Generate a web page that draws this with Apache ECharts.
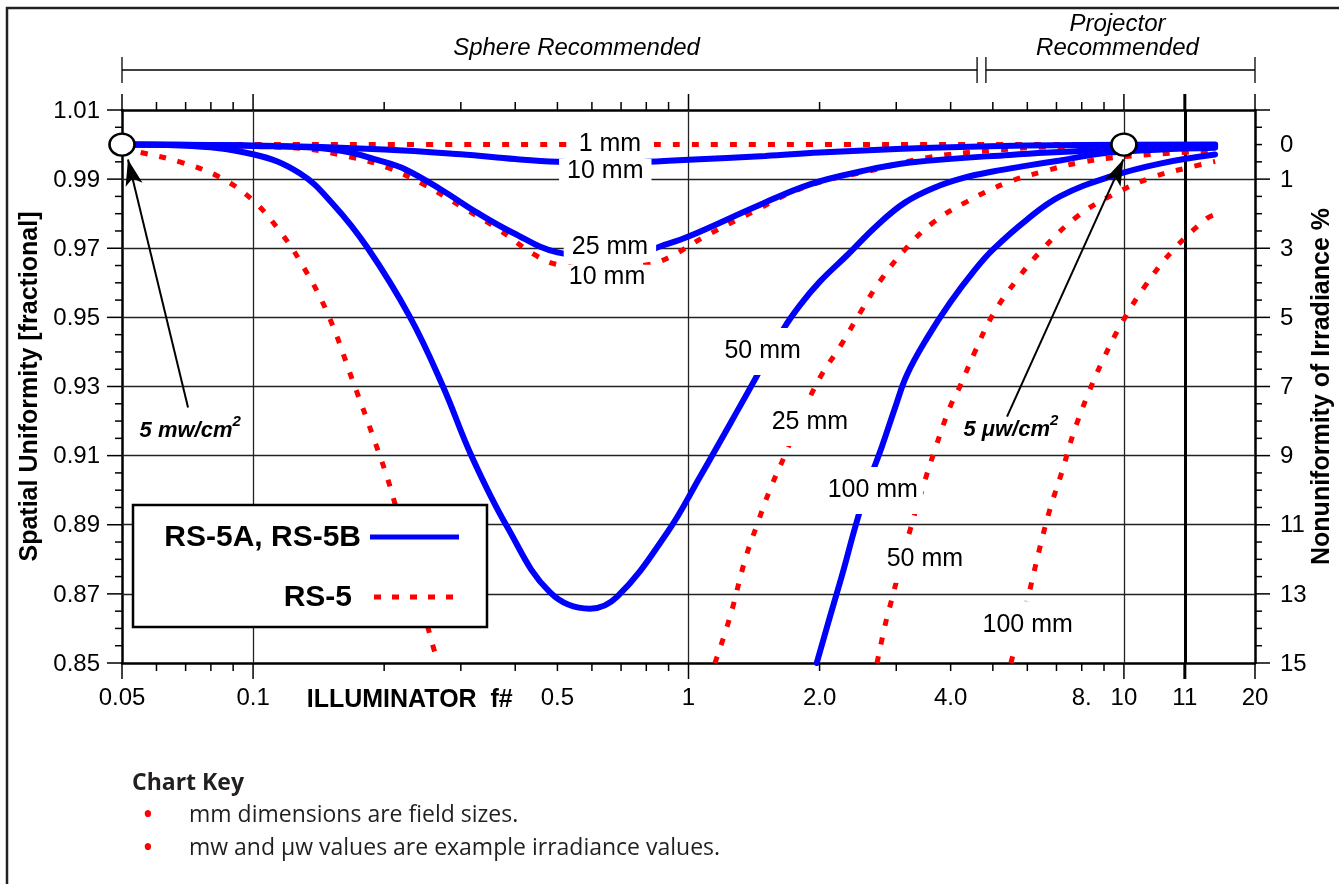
<!DOCTYPE html>
<html><head><meta charset="utf-8">
<script src="https://cdn.jsdelivr.net/npm/echarts@6.0.0/dist/echarts.min.js"></script>
<style>html,body{margin:0;padding:0;background:#fff;overflow:hidden;width:1339px;height:884px}#c{width:1339px;height:884px}</style>
</head><body><div id="c"></div>
<script>
// ---------------- data ----------------
const X_MIN = 0.05, X_MAX = 20, Y_MIN = 0.85, Y_MAX = 1.01;

// RS-5A, RS-5B (solid blue)
const blue10mm = [[0.05,1.0],[0.1,0.9997],[0.2,0.9986],[0.3,0.9972],[0.4,0.9958],[0.5,0.9950],[0.65,0.9947],[0.86,0.9952],[1.0,0.9956],[1.5,0.9967],[2.0,0.9977],[3.0,0.9987],[4.0,0.9992],[6.0,0.9997],[8.0,0.9999],[16.2,1.0]];
const blue25mm = [[0.05,1.0],[0.1,0.9996],[0.154,0.9985],[0.2,0.9950],[0.224,0.9928],[0.27,0.9870],[0.327,0.9803],[0.395,0.9745],[0.5,0.9688],[0.62,0.9678],[0.81,0.9694],[0.86,0.9705],[1.0,0.9734],[1.46,0.9826],[1.9,0.9885],[2.48,0.9922],[3.23,0.9948],[5.47,0.9970],[9.29,0.9985],[16.2,0.9997]];
const blue50mm = [[0.05,1.0],[0.068,0.9997],[0.1,0.9972],[0.128,0.9917],[0.153,0.9826],[0.183,0.9702],[0.229,0.9502],[0.273,0.9300],[0.318,0.9097],[0.383,0.8895],[0.481,0.8704],[0.594,0.8657],[0.686,0.8692],[0.893,0.8877],[1.063,0.9039],[1.35,0.9270],[1.65,0.9465],[1.80,0.9534],[2.005,0.9604],[2.31,0.9679],[2.71,0.9766],[3.14,0.9832],[3.68,0.9876],[4.32,0.9905],[5.0,0.9922],[5.99,0.9939],[7.13,0.9954],[9.29,0.9977],[16.2,0.9991]];
const blue100mm = [[1.97,0.85],[2.113,0.8634],[2.264,0.8764],[2.413,0.8892],[2.584,0.9016],[2.784,0.9128],[2.98,0.9238],[3.175,0.9334],[3.53,0.9440],[3.99,0.9543],[4.55,0.9638],[5.0,0.9696],[5.99,0.9783],[7.13,0.9850],[9.29,0.9907],[12.1,0.9945],[16.2,0.9971]];

// RS-5 (dotted red)
const red1mm = [[0.05,1.0],[0.5,1.0],[1.0,1.0],[16.2,1.0]];
const red10mm = [[0.05,1.0],[0.122,0.9991],[0.166,0.9965],[0.204,0.9933],[0.247,0.9884],[0.303,0.9818],[0.367,0.9754],[0.442,0.9682],[0.5,0.9653],[0.63,0.9640],[0.81,0.9653],[0.91,0.9676],[1.08,0.9731],[1.44,0.9812],[1.74,0.9864],[2.11,0.9899],[2.57,0.9922],[3.53,0.9962],[5.0,0.9983],[7.13,0.9994],[16.2,0.9997]];
const red25mmLow = [[0.05,0.9988],[0.0553,0.9977],[0.0687,0.9948],[0.084,0.9905],[0.0994,0.9841],[0.1135,0.976],[0.128,0.9664],[0.148,0.9514],[0.170,0.9311],[0.189,0.9152],[0.2086,0.899],[0.2576,0.8559],[0.266,0.85]];
const red25mmHigh = [[1.15,0.85],[1.246,0.8634],[1.349,0.8799],[1.437,0.890],[1.539,0.9002],[1.667,0.9103],[1.80,0.9204],[2.005,0.9326],[2.23,0.9416],[2.48,0.9514],[2.75,0.9604],[3.14,0.9696],[3.64,0.9774],[4.36,0.9835],[5.39,0.989],[6.52,0.9922],[7.93,0.9948],[10,0.9965],[16.2,0.9983]];
const red50mm = [[2.71,0.85],[2.83,0.8611],[2.90,0.8663],[3.01,0.8741],[3.23,0.8886],[3.44,0.9002],[3.68,0.9117],[3.99,0.9242],[4.20,0.930],[4.55,0.9401],[5.0,0.9508],[5.68,0.9609],[6.49,0.9696],[7.81,0.9792],[9.44,0.9855],[11.6,0.9905],[14.0,0.9933],[16.2,0.9951]];
const red100mm = [[5.50,0.85],[5.99,0.8678],[6.42,0.8837],[6.77,0.8947],[7.21,0.9054],[7.64,0.9161],[8.23,0.9271],[8.96,0.9378],[9.90,0.9485],[11.2,0.9592],[13.0,0.9696],[15.5,0.9786],[16.2,0.9797]];

const seriesNames = ['RS-5A, RS-5B', 'RS-5'];

// curve labels (field sizes)
const flatLabelTexts = ['10 mm', '1 mm', '25 mm', '10 mm'];
const flatLabelAt = [[0.644,0.9922],[0.66,1.0],[0.66,0.9702],[0.65,0.9616]];
const steepLabelTexts = ['50 mm', '25 mm', '100 mm', '50 mm', '100 mm'];
const steepLabelAt = [[1.48,0.9401],[1.90,0.9196],[2.65,0.8999],[3.49,0.880],[6.01,0.8611]];

// irradiance examples
const markerPoints = [[0.05,1.0],[10,1.0]];
const noteTexts = ['5 mw/cm', '5 \u03bcw/cm'];
const noteAt = [[0.0717,0.917],[5.5,0.9173]];
const arrowFrom = [[0.0709,0.9239],[5.39,0.9213]];
const arrowTo = [[0.0516,0.9957],[9.97,0.9957]];

// recommendation ranges
const regionNames = ['Sphere Recommended', 'Projector\nRecommended'];
const regionFrom = [0.05, 4.82];
const regionTo = [4.6, 20];

// axes ticks & labels
const xMajorTicks = [0.05, 0.1, 1, 10, 20];
const xMinorTicks = [0.06,0.07,0.08,0.09,0.2,0.3,0.4,0.5,0.6,0.7,0.8,0.9,2,3,4,5,6,7,8,9];
const xHeavyTicks = [13.8];
const xLabelValues = [0.05,0.1,0.5,1,2,4,8,10,13.8,20];
const xLabelTexts = ['0.05','0.1','0.5','1','2.0','4.0','8.','10','11','20'];
const xTitle = 'ILLUMINATOR  f#';
const xTitleAt = 0.229;
const yMajorTicks = [0.85,0.87,0.89,0.91,0.93,0.95,0.97,0.99,1.01];
const yMinorTicks = [0.855,0.86,0.865,0.875,0.88,0.885,0.895,0.90,0.905,0.915,0.92,0.925,0.935,0.94,0.945,0.955,0.96,0.965,0.975,0.98,0.985,0.995,1.00,1.005];
const rightLabelValues = [1.00,0.99,0.97,0.95,0.93,0.91,0.89,0.87,0.85];
const rightLabelTexts = ['0','1','3','5','7','9','11','13','15'];
const gridX = [0.1, 1, 10];
const gridHeavyX = [13.8];
const gridY = [0.99,0.97,0.95,0.93,0.91,0.89,0.87];

const keyTitle = 'Chart Key';
const keyLines = ['mm dimensions are field sizes.', 'mw and \u03bcw values are example irradiance values.'];

// ---------------- chart ----------------
const FONT = '"Liberation Sans", Arial, Helvetica, sans-serif';
const KEYFONT = '"Open Sans", "Noto Sans", sans-serif';
const chart = echarts.init(document.getElementById('c'), null, {renderer: 'canvas', width: 1339, height: 884});

function curve(name, data, blue) {
  return {
    type: 'line', name: name, data: data, xAxisIndex: 0, yAxisIndex: 0,
    showSymbol: false, symbol: 'none', smooth: 0.4,
    silent: true, z: blue ? 4 : 3, clip: true,
    lineStyle: blue ? {color: '#0000ff', width: 6, cap: 'round'}
                    : {color: '#ff0000', width: 5, type: [7, 12], cap: 'butt'}
  };
}
function txt(text, x, y, font, align, valign, fill) {
  return {text: text, x: x, y: y, font: font, fill: fill || '#000',
    align: align, verticalAlign: valign, textAlign: align, textVerticalAlign: valign};
}

const axisLineStyle = {show: true, onZero: false, lineStyle: {color: '#000', width: 2.5}};
const baseX = {type: 'log', logBase: 10, min: X_MIN, max: X_MAX, axisLine: axisLineStyle,
  axisTick: {show: false}, axisLabel: {show: false}, splitLine: {show: false}};
const baseY = {type: 'value', min: Y_MIN, max: Y_MAX, axisLine: axisLineStyle,
  axisTick: {show: false}, axisLabel: {show: false}, splitLine: {show: false},
  nameLocation: 'middle', nameRotate: 90,
  nameTextStyle: {fontFamily: FONT, fontSize: 25, fontWeight: 'bold', color: '#000'}};

const gridLines = []
  .concat(gridX.map(v => ({xAxis: v})))
  .concat(gridY.map(v => ({yAxis: v})))
  .concat(gridHeavyX.map(v => ({xAxis: v, lineStyle: {color: '#000', width: 3}})));

const xTickData = [].concat(xMajorTicks.map(v => [v, 0]), xMinorTicks.map(v => [v, 1]), xHeavyTicks.map(v => [v, 2]));
const yTickData = [].concat(yMajorTicks.map(v => [X_MIN, v, 0]), yMinorTicks.map(v => [X_MIN, v, 1]));

const hiddenItem = {color: 'rgba(0,0,0,0)', opacity: 1};

const option = {
  animation: false,
  backgroundColor: '#fff',
  grid: {left: 122, right: 84, top: 110, bottom: 221, outerBoundsMode: 'none', containLabel: false},
  xAxis: [Object.assign({}, baseX, {position: 'bottom'}), Object.assign({}, baseX, {position: 'top'})],
  yAxis: [
    Object.assign({}, baseY, {position: 'left', name: 'Spatial Uniformity [fractional]', nameGap: 79}),
    Object.assign({}, baseY, {position: 'right', name: 'Nonuniformity of Irradiance %', nameGap: 55})
  ],
  series: [
    // grid lines
    {type: 'line', data: [[X_MIN, Y_MAX]], showSymbol: false, symbol: 'none', silent: true, z: 1,
      lineStyle: {opacity: 0},
      markLine: {silent: true, z: 1, symbol: ['none', 'none'], label: {show: false}, animation: false,
        lineStyle: {color: '#222', width: 1.3, type: 'solid'}, data: gridLines}},
    curve(seriesNames[1], red1mm, false),
    curve(seriesNames[1], red10mm, false),
    curve(seriesNames[1], red25mmLow, false),
    curve(seriesNames[1], red25mmHigh, false),
    curve(seriesNames[1], red50mm, false),
    curve(seriesNames[1], red100mm, false),
    curve(seriesNames[0], blue10mm, true),
    curve(seriesNames[0], blue25mm, true),
    curve(seriesNames[0], blue50mm, true),
    curve(seriesNames[0], blue100mm, true),
    // x ticks (top & bottom)
    {type: 'custom', data: xTickData, silent: true, z: 8, clip: false,
      renderItem: function (params, api) {
        const v = api.value(0), kind = api.value(1);
        const b = api.coord([v, Y_MIN]), t = api.coord([v, Y_MAX]);
        const len = kind === 1 ? 8 : 16, w = kind === 2 ? 3 : 1.5;
        return {type: 'group', children: [
          {type: 'line', shape: {x1: b[0], y1: b[1], x2: b[0], y2: b[1] + len}, style: {stroke: '#000', lineWidth: w}},
          {type: 'line', shape: {x1: t[0], y1: t[1], x2: t[0], y2: t[1] - len}, style: {stroke: '#000', lineWidth: w}}
        ]};
      }},
    // y ticks (left & right)
    {type: 'custom', data: yTickData, silent: true, z: 8, clip: false,
      renderItem: function (params, api) {
        const y = api.value(1), kind = api.value(2);
        const l = api.coord([X_MIN, y]), r = api.coord([X_MAX, y]);
        const len = kind === 1 ? 7 : 15;
        return {type: 'group', children: [
          {type: 'line', shape: {x1: l[0], y1: l[1], x2: l[0] - len, y2: l[1]}, style: {stroke: '#000', lineWidth: 1.5}},
          {type: 'line', shape: {x1: r[0], y1: r[1], x2: r[0] + len, y2: r[1]}, style: {stroke: '#000', lineWidth: 1.5}}
        ]};
      }},
    // x labels
    {type: 'custom', data: xLabelValues.map(v => [v, Y_MIN]), silent: true, z: 8, clip: false,
      renderItem: function (params, api) {
        const p = api.coord([api.value(0), Y_MIN]);
        return {type: 'text', style: txt(xLabelTexts[params.dataIndex], p[0], p[1] + 35, '24px ' + FONT, 'center', 'middle')};
      }},
    // x title
    {type: 'custom', data: [[xTitleAt, Y_MIN]], silent: true, z: 8, clip: false,
      renderItem: function (params, api) {
        const p = api.coord([api.value(0), Y_MIN]);
        return {type: 'text', style: txt(xTitle, p[0], p[1] + 37, 'bold 25px ' + FONT, 'center', 'middle')};
      }},
    // left y labels
    {type: 'custom', data: yMajorTicks.map(v => [X_MIN, v]), silent: true, z: 8, clip: false,
      renderItem: function (params, api) {
        const p = api.coord([X_MIN, api.value(1)]);
        return {type: 'text', style: txt(api.value(1).toFixed(2), p[0] - 22, p[1] + 1, '24px ' + FONT, 'right', 'middle')};
      }},
    // right y labels
    {type: 'custom', data: rightLabelValues.map(v => [X_MAX, v]), silent: true, z: 8, clip: false,
      renderItem: function (params, api) {
        const p = api.coord([X_MAX, api.value(1)]);
        return {type: 'text', style: txt(rightLabelTexts[params.dataIndex], p[0] + 25, p[1] + 1, '24px ' + FONT, 'left', 'middle')};
      }},
    // recommendation brackets
    {type: 'custom', data: regionFrom.map((f, i) => [f, regionTo[i]]), silent: true, z: 8, clip: false,
      renderItem: function (params, api) {
        const a = api.coord([api.value(0), Y_MAX]), b = api.coord([api.value(1), Y_MAX]);
        const ly = a[1] - 40;
        const mid = (a[0] + b[0]) / 2 + (params.dataIndex === 0 ? 27 : -3);
        const lines = regionNames[params.dataIndex].split('\n');
        const children = [
          {type: 'line', shape: {x1: a[0], y1: ly, x2: b[0], y2: ly}, style: {stroke: '#000', lineWidth: 1.3}},
          {type: 'line', shape: {x1: a[0], y1: ly - 13, x2: a[0], y2: ly + 13}, style: {stroke: '#000', lineWidth: 1.3}},
          {type: 'line', shape: {x1: b[0], y1: ly - 13, x2: b[0], y2: ly + 13}, style: {stroke: '#000', lineWidth: 1.3}}
        ];
        lines.forEach((s, k) => {
          children.push({type: 'text', style: txt(s, mid, ly - 22 - (lines.length - 1 - k) * 24, 'italic 24px ' + FONT, 'center', 'middle')});
        });
        return {type: 'group', children: children};
      }},
    // curve labels (flat curves)
    {type: 'scatter', data: flatLabelAt.map((p, i) => ({value: p, name: flatLabelTexts[i]})),
      symbolSize: 1, itemStyle: hiddenItem, silent: true, z: 6, clip: false,
      label: {show: true, position: 'inside', formatter: '{b}', color: '#000', fontFamily: FONT, fontSize: 25,
        backgroundColor: '#fff', padding: [0, 8]}},
    // curve labels (steep curves)
    {type: 'scatter', data: steepLabelAt.map((p, i) => ({value: p, name: steepLabelTexts[i]})),
      symbolSize: 1, itemStyle: hiddenItem, silent: true, z: 6, clip: false,
      label: {show: true, position: 'inside', formatter: '{b}', color: '#000', fontFamily: FONT, fontSize: 25,
        backgroundColor: '#fff', padding: [11, 5]}},
    // irradiance notes
    {type: 'scatter', data: noteAt.map((p, i) => ({value: p, name: noteTexts[i]})),
      symbolSize: 1, itemStyle: hiddenItem, silent: true, z: 6, clip: false,
      label: {show: true, position: 'inside', formatter: '{a|{b}}{s|2}',
        rich: {
          a: {fontFamily: FONT, fontSize: 22, fontWeight: 'bold', fontStyle: 'italic', color: '#000', lineHeight: 34},
          s: {fontFamily: FONT, fontSize: 15, fontWeight: 'bold', fontStyle: 'italic', color: '#000', lineHeight: 15, verticalAlign: 'top'}
        }}},
    // marker circles + arrows
    {type: 'scatter', data: markerPoints, symbol: 'circle', symbolSize: [25, 22], silent: true, z: 10, clip: false,
      itemStyle: {color: '#fff', borderColor: '#000', borderWidth: 2.5, opacity: 1},
      markLine: {silent: true, z: 9, symbol: ['none', 'arrow'], symbolSize: [13, 26], label: {show: false}, animation: false,
        lineStyle: {color: '#000', width: 2, type: 'solid'},
        data: arrowFrom.map((f, i) => [{coord: f}, {coord: arrowTo[i]}])}}
  ],
  graphic: [
    // page frame
    {type: 'rect', z: 0, silent: true, shape: {x: 7, y: 8, width: 1400, height: 1000},
      style: {fill: 'none', stroke: '#222', lineWidth: 2.5}},
    // legend
    {type: 'rect', z: 100, silent: true, shape: {x: 133, y: 505, width: 354, height: 122},
      style: {fill: '#fff', stroke: '#000', lineWidth: 2.5}},
    {type: 'text', z: 101, silent: true, style: txt(seriesNames[0], 361, 538, 'bold 30px ' + FONT, 'right', 'middle')},
    {type: 'line', z: 101, silent: true, shape: {x1: 370, y1: 537, x2: 459, y2: 537}, style: {stroke: '#0000ff', lineWidth: 5}},
    {type: 'text', z: 101, silent: true, style: txt(seriesNames[1], 352, 598, 'bold 30px ' + FONT, 'right', 'middle')},
    {type: 'line', z: 101, silent: true, shape: {x1: 374, y1: 597, x2: 457, y2: 597}, style: {stroke: '#ff0000', lineWidth: 5, lineDash: [7, 11]}},
    // chart key
    {type: 'text', z: 100, silent: true, style: txt(keyTitle, 132, 783, 'bold 23px ' + KEYFONT, 'left', 'middle', '#231f20')},
    {type: 'text', z: 100, silent: true, style: txt('\u2022', 148, 815, '30px ' + KEYFONT, 'center', 'middle', '#ff0000')},
    {type: 'text', z: 100, silent: true, style: txt(keyLines[0], 189, 815, '23px ' + KEYFONT, 'left', 'middle', '#231f20')},
    {type: 'text', z: 100, silent: true, style: txt('\u2022', 148, 848, '30px ' + KEYFONT, 'center', 'middle', '#ff0000')},
    {type: 'text', z: 100, silent: true, style: txt(keyLines[1], 189, 848, '23px ' + KEYFONT, 'left', 'middle', '#231f20')}
  ]
};
chart.setOption(option);
</script>
</body></html>
